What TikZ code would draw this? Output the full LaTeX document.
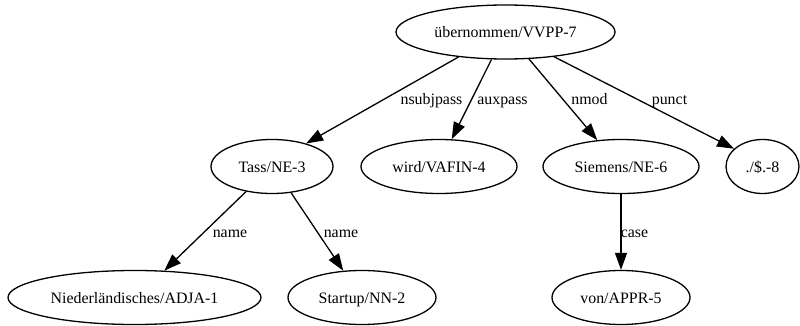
\documentclass[tikz,border=0pt]{standalone}
\usepackage{fontspec}
\setmainfont{Liberation Serif}
\usetikzlibrary{shapes.geometric,arrows.meta}
\begin{document}
\begin{tikzpicture}[x=1pt,y=-1pt,
  tok/.style={ellipse,draw,line width=1.3pt,inner sep=0pt,minimum height=54pt,
    font=\fontsize{15.9}{18}\selectfont,text height=11pt,text depth=0pt},
  dep/.style={draw,line width=1.3pt,-{Triangle[length=17pt,width=12pt]}},
  lbl/.style={font=\fontsize{15.9}{18}\selectfont,anchor=base,inner sep=0pt}]
\useasboundingbox (0,0) rectangle (800,326);
% tokens
\node[tok,minimum width=219pt] (n7) at (505.5,32) {übernommen/VVPP-7};
\node[tok,minimum width=122pt] (n3) at (272,166.5) {Tass/NE-3};
\node[tok,minimum width=156pt] (n4) at (439,166.5) {wird/VAFIN-4};
\node[tok,minimum width=156pt] (n6) at (621,166.5) {Siemens/NE-6};
\node[tok,minimum width=73pt] (n8) at (762.5,166.5) {./\$.-8};
\node[tok,minimum width=253pt] (n1) at (134.5,297.5) {Niederländisches/ADJA-1};
\node[tok,minimum width=148pt] (n2) at (362,297.5) {Startup/NN-2};
\node[tok,minimum width=138pt] (n5) at (621,297.5) {von/APPR-5};
% dependencies
\draw[dep] (n7.208) -- (n3.34);
\draw[dep] (n7.243) -- (n4.65);
\draw[dep] (n7.311) -- (n6.132);
\draw[dep] (n7.333) -- (n8.148);
\draw[dep] (n3.224) -- (n1.42);
\draw[dep] (n3.306) -- (n2.125);
\draw[dep] (n6.south) -- (n5.north);
% labels
\node[lbl] (l1) at (431.5,105) {nsubjpass};
\node[lbl] (l2) at (502.5,105) {auxpass};
\node[lbl] (l3) at (589.5,105) {nmod};
\node[lbl] (l4) at (669.5,105) {punct};
\node[lbl] (l5) at (230,237) {name};
\node[lbl] (l6) at (341,237) {name};
\node[lbl] (l7) at (634.5,237) {case};
\end{tikzpicture}
\end{document}
